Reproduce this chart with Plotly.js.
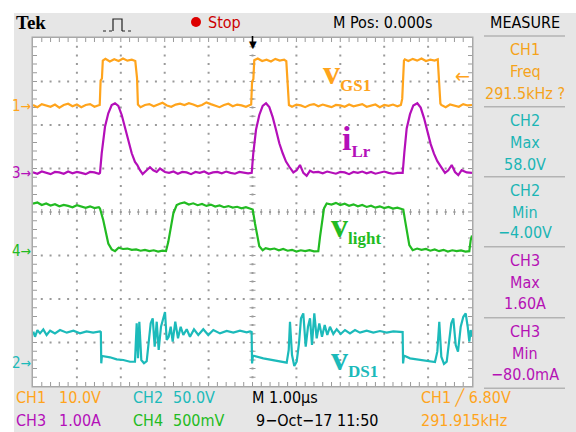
<!DOCTYPE html>
<html><head><meta charset="utf-8">
<script src="https://cdn.plot.ly/plotly-3.0.1.min.js"></script>
<style>html,body{margin:0;padding:0;background:#fff}#chart{width:576px;height:432px}</style>
</head><body><div id="chart"></div>
<script>
// ---------------- data (time in µs) ----------------
// CH1 : v_GS1 (V)
const ch1Time = [-5.00,-4.90,-4.80,-4.70,-4.60,-4.50,-4.40,-4.30,-4.20,-4.10,-4.00,-3.90,-3.80,-3.70,-3.60,-3.52,-3.48,
  -3.46,-3.43,-3.41,
  -3.35,-3.25,-3.15,-3.05,-2.95,-2.85,-2.75,-2.67,
  -2.65,-2.63,-2.61,
  -2.55,-2.45,-2.35,-2.25,-2.15,-2.05,-1.95,-1.85,-1.75,-1.65,-1.55,-1.45,-1.35,-1.25,-1.15,-1.05,-0.95,-0.85,-0.75,-0.65,-0.55,-0.45,-0.35,-0.25,-0.15,-0.06,
  -0.03,-0.01,0.02,0.04,
  0.12,0.22,0.32,0.42,0.52,0.62,0.72,
  0.77,0.79,0.81,0.83,
  0.90,1.00,1.10,1.20,1.30,1.40,1.50,1.60,1.70,1.80,1.90,2.00,2.10,2.20,2.30,2.40,2.50,2.60,2.70,2.80,2.90,3.00,3.10,3.20,3.30,
  3.38,
  3.41,3.43,3.45,
  3.47,3.55,3.65,3.75,3.85,3.95,4.05,4.15,4.22,
  4.24,4.26,4.28,
  4.30,4.40,4.50,4.60,4.70,4.80,4.90,5.00];
const ch1Volt = [0.2,-0.3,0.4,0.1,-0.2,0.3,-0.4,0.2,0.5,-0.1,0.3,-0.3,0.2,0.4,-0.2,0.1,0.2,
  5.8,6.3,10.4,
  10.8,10.2,10.7,10.3,10.9,10.4,10.6,10.3,
  7.2,6.4,0.3,
  -0.3,0.2,0.4,-0.1,0.3,0.7,0.1,-0.2,0.3,0.5,0.2,0.6,0.3,-0.1,0.2,0.8,0.4,0.1,-0.3,0.2,0.5,-0.1,0.3,0.1,-0.2,0.2,
  0.3,5.5,6.2,10.5,
  10.9,10.3,10.6,10.2,10.8,10.4,10.6,
  10.3,6.6,5.9,0.2,
  -0.2,0.3,0.1,-0.3,0.2,0.4,-0.1,0.3,0.0,-0.3,0.2,0.1,-0.2,0.3,-0.1,0.2,0.4,-0.2,0.1,0.3,-0.3,0.2,0.0,0.3,-0.1,
  0.2,
  1.6,6.0,10.4,
  10.7,10.3,10.8,10.4,10.9,10.3,10.6,10.4,10.7,
  6.8,6.2,0.5,
  0.2,-0.3,0.3,0.1,-0.2,0.4,0.1,0.2];

// CH2 : v_DS1 (V)
const ch2Time = [-4.993,-4.954,-4.90,-4.84,-4.765,-4.69,-4.61,-4.50,-4.385,-4.23,-4.08,-3.93,-3.78,-3.63,-3.474,
  -3.455,-3.445,-3.43,-3.246,-3.093,-2.943,-2.790,-2.677,
  -2.638,-2.608,-2.578,-2.533,-2.472,-2.410,-2.365,-2.319,-2.273,-2.228,-2.182,-2.137,-2.084,-2.032,-1.993,-1.954,-1.909,-1.863,-1.818,-1.759,-1.697,-1.636,-1.576,-1.499,-1.424,-1.333,-1.235,-1.121,-1.007,-0.893,-0.740,-0.588,-0.437,-0.285,-0.132,-0.057,
  -0.02,-0.01,0.01,0.246,0.474,0.702,0.779,
  0.825,0.854,0.900,0.952,1.006,1.059,1.105,1.157,1.212,1.264,1.310,1.355,1.408,1.462,1.522,1.583,1.645,1.704,1.765,1.841,1.918,2.009,2.107,2.221,2.335,2.449,2.601,2.752,2.904,3.057,3.208,3.399,
  3.42,3.43,3.45,3.588,3.815,4.043,4.157,
  4.210,4.255,4.301,4.362,4.424,4.483,4.528,4.574,4.629,4.681,4.743,4.802,4.856,4.902,4.939,4.970,5.00];
const ch2Volt = [35.4,29.6,37.3,33.5,38.1,31.6,36.6,33.5,37.3,34.3,36.6,33.5,35.8,34.3,35.8,
  35.0,-0.9,7.5,6.0,3.6,2.9,0.9,1.0,
  45.0,4.8,46.9,2.9,-0.9,1.5,22.0,45.0,50.8,18.2,46.9,14.4,41.1,52.6,58.0,25.9,29.6,41.1,23.9,46.9,27.8,41.1,31.6,38.3,29.6,38.1,31.6,38.3,31.6,37.3,33.5,36.2,34.3,36.6,34.7,35.8,
  35.0,-1.0,8.0,4.8,2.9,0.9,-0.2,
  14.4,46.9,8.6,-4.0,0.9,22.0,50.8,56.5,18.2,41.1,50.8,20.1,56.5,27.8,45.0,29.6,43.0,31.6,41.1,32.8,38.3,32.8,37.3,33.5,37.3,34.3,36.6,34.3,36.2,34.3,35.8,35.0,
  35.0,-1.0,8.0,4.8,2.9,0.9,0.5,
  12.5,46.9,6.7,-1.6,0.9,25.9,45.0,50.8,20.1,12.5,41.1,52.6,56.5,41.1,23.9,37.3,29.6];

// CH3 : i_Lr (A)
const ch3Time = [-5.00,-4.90,-4.80,-4.70,-4.60,-4.50,-4.40,-4.30,-4.20,-4.10,-4.00,-3.90,-3.80,-3.70,-3.60,-3.50,-3.474,
  -3.435,-3.360,-3.285,-3.207,-3.132,-3.056,-2.979,-2.904,-2.828,-2.751,-2.677,-2.624,-2.563,-2.502,-2.410,-2.335,-2.260,-2.182,-2.107,-1.993,
  -1.90,-1.80,-1.70,-1.60,-1.50,-1.40,-1.30,-1.20,-1.10,-1.00,-0.90,-0.80,-0.70,-0.60,-0.50,-0.40,-0.30,-0.20,-0.10,-0.018,
  0.018,0.080,0.155,0.232,0.308,0.383,0.460,0.535,0.611,0.688,0.763,0.839,0.930,1.006,1.082,1.158,1.234,1.310,1.385,
  1.50,1.60,1.70,1.80,1.90,2.00,2.10,2.20,2.30,2.40,2.50,2.60,2.70,2.80,2.90,3.00,3.10,3.20,3.30,3.421,
  3.459,3.512,3.588,3.663,3.754,3.831,3.907,3.982,4.059,4.134,4.210,4.287,4.385,4.460,4.538,4.613,4.688,4.765,4.879,5.00];
const ch3Amp = [0.01,-0.02,0.03,0.0,-0.03,0.02,0.01,-0.02,0.03,-0.01,0.02,0.0,-0.03,0.02,0.01,-0.02,0.0,
  0.45,1.06,1.37,1.56,1.60,1.54,1.33,1.06,0.75,0.45,0.25,0.18,0.06,-0.03,0.06,0.13,0.06,0.02,0.10,0.02,
  0.0,0.03,-0.02,0.02,0.01,-0.03,0.02,0.0,0.03,-0.02,0.01,0.02,-0.01,0.03,0.0,-0.02,0.02,0.01,-0.01,0.0,
  0.45,0.99,1.33,1.54,1.60,1.51,1.28,0.99,0.68,0.45,0.26,0.14,0.01,0.06,0.18,0.0,-0.07,0.05,0.01,
  0.02,-0.01,0.03,0.0,-0.02,0.02,0.01,-0.03,0.02,0.0,0.03,-0.01,0.02,-0.02,0.01,0.03,0.0,-0.02,0.0,0.0,
  0.47,1.02,1.35,1.55,1.60,1.50,1.26,0.97,0.66,0.44,0.27,0.15,0.0,0.06,0.18,0.02,-0.05,0.06,0.01,0.0];

// CH4 : v_light (mV)
const ch4Time = [-5.00,-4.90,-4.80,-4.70,-4.60,-4.50,-4.40,-4.30,-4.20,-4.10,-4.00,-3.90,-3.80,-3.70,-3.60,-3.50,-3.474,
  -3.399,-3.337,-3.285,-3.207,-3.132,
  -3.05,-2.95,-2.85,-2.75,-2.65,-2.55,-2.45,-2.35,-2.25,-2.15,-2.05,-1.970,
  -1.918,-1.863,-1.804,-1.727,-1.651,
  -1.55,-1.45,-1.35,-1.25,-1.15,-1.05,-0.95,-0.85,-0.75,-0.65,-0.55,-0.45,-0.35,-0.25,-0.15,-0.05,0.005,
  0.057,0.109,0.155,0.232,
  0.30,0.40,0.50,0.60,0.70,0.80,0.90,1.00,1.10,1.20,1.30,1.40,1.499,
  1.538,1.583,1.629,1.690,
  1.80,1.90,2.00,2.10,2.20,2.30,2.40,2.50,2.60,2.70,2.80,2.90,3.00,3.10,3.20,3.30,3.40,3.435,
  3.474,3.526,3.572,3.649,
  3.75,3.85,3.95,4.05,4.15,4.25,4.35,4.45,4.55,4.65,4.75,4.85,4.939,4.970,5.00];
const ch4mV = [545,560,530,548,525,540,515,532,520,505,528,512,498,515,495,505,490,
  356,203,88,20,0,
  40,25,30,15,20,5,15,0,10,-5,5,0,
  107,279,433,529,548,
  560,535,550,528,542,520,535,512,525,505,518,500,510,492,505,488,479,
  318,164,57,11,
  35,20,30,10,25,5,15,-5,10,0,12,-3,0,
  164,356,491,548,
  535,555,530,545,522,538,515,530,508,522,500,515,495,508,490,500,485,479,
  356,184,69,11,
  30,15,25,5,20,0,15,-5,10,0,8,-5,0,126,180];

// scope settings
const chScale  = {ch1:10, ch2:50, ch3:1, ch4:500};     // units per division
const chGround = {ch1:2.44, ch2:-3.46, ch3:0.90, ch4:-0.90}; // ground marker, divisions from centre
const trigLevel = 6.80;   // V on CH1
const measureLines = [
  ['CH1','#f5a31a'],['Freq','#f5a31a'],['291.5kHz ?','#f5a31a'],
  ['CH2','#1bb5b5'],['Max','#1bb5b5'],['58.0V','#1bb5b5'],
  ['CH2','#1bb5b5'],['Min','#1bb5b5'],['\u22124.00V','#1bb5b5'],
  ['CH3','#b511b5'],['Max','#b511b5'],['1.60A','#b511b5'],
  ['CH3','#b511b5'],['Min','#b511b5'],['\u221280.0mA','#b511b5']];

// ---------------- styling ----------------
const C1='#ffa41c', C2='#1cbaba', C3='#b40fb9', C4='#22bb22';
const SANS='"Liberation Sans Narrow","DejaVu Sans Condensed","Arial Narrow",sans-serif';
const SERIF='"Liberation Serif","Times New Roman","DejaVu Serif",serif';
const L=33,R=472,T=38,B=386;
const px=x=>(x-L)/(R-L), py=y=>(B-y)/(B-T);
function rng(k){return [(-4-chGround[k])*chScale[k],(4-chGround[k])*chScale[k]];}

const traces=[
  {x:ch2Time,y:ch2Volt,xaxis:'x',yaxis:'y3',mode:'lines',line:{color:C2,width:2.2},hoverinfo:'skip'},
  {x:ch4Time,y:ch4mV,xaxis:'x',yaxis:'y5',mode:'lines',line:{color:C4,width:2.2},hoverinfo:'skip'},
  {x:ch3Time,y:ch3Amp,xaxis:'x',yaxis:'y4',mode:'lines',line:{color:C3,width:2.2},hoverinfo:'skip'},
  {x:ch1Time,y:ch1Volt,xaxis:'x',yaxis:'y2',mode:'lines',line:{color:C1,width:2.2},hoverinfo:'skip'}
];

const GC='#9a9a9a';
const hidden={visible:false,overlaying:'y',showgrid:false,zeroline:false,fixedrange:true};
const layout={
  width:576,height:432,
  margin:{l:L,r:576-R,t:T,b:432-B,pad:0},
  paper_bgcolor:'#e6e6e6',plot_bgcolor:'#ffffff',showlegend:false,
  xaxis:{range:[-5,5],showgrid:false,zeroline:false,showline:false,ticks:'',showticklabels:false,fixedrange:true},
  yaxis:{range:[-4,4],showgrid:false,zeroline:false,showline:false,ticks:'',showticklabels:false,fixedrange:true},
  yaxis2:Object.assign({range:rng('ch1')},hidden),
  yaxis3:Object.assign({range:rng('ch2')},hidden),
  yaxis4:Object.assign({range:rng('ch3')},hidden),
  yaxis5:Object.assign({range:rng('ch4')},hidden),
  shapes:[],annotations:[]
};

// graticule decoration, drawn as small filled rectangles (division dots, border ticks, centre ticks)
const S=layout.shapes;
const ux=1/43.9, uy=1/43.5;    // one pixel in data units
let dots='', ticks='';
function rect(x0,x1,y0,y1){return `M${x0.toFixed(4)},${y0.toFixed(4)}H${x1.toFixed(4)}V${y1.toFixed(4)}H${x0.toFixed(4)}Z`;}
for(let i=-4;i<=4;i++) for(let k=1;k<40;k++){const y=-4+k/5; dots+=rect(i-ux,i+ux,y-uy,y+uy);}
for(let j=-3;j<=3;j++) for(let k=1;k<50;k++){const x=-5+k/5; if(Math.abs(x-Math.round(x))<1e-6) continue; dots+=rect(x-ux,x+ux,j-uy,j+uy);}
for(let k=1;k<50;k++){const x=-5+k/5;
  ticks+=rect(x-0.5*ux,x+0.5*ux,-4,-4+4*uy); ticks+=rect(x-0.5*ux,x+0.5*ux,4-4*uy,4);
  ticks+=rect(x-0.5*ux,x+0.5*ux,-3*uy,3*uy);}
for(let k=1;k<40;k++){const y=-4+k/5;
  ticks+=rect(-5,-5+4*ux,y-0.5*uy,y+0.5*uy); ticks+=rect(5-4*ux,5,y-0.5*uy,y+0.5*uy);
  ticks+=rect(-3*ux,3*ux,y-0.5*uy,y+0.5*uy);}
S.push({type:'path',xref:'x',yref:'y',path:dots,fillcolor:GC,line:{width:0},layer:'below'});
S.push({type:'path',xref:'x',yref:'y',path:ticks,fillcolor:GC,line:{width:0},layer:'below'});
// plot frame (filled strips)
const fx=1.5/439, fy=1.5/348;
S.push({type:'path',xref:'paper',yref:'paper',fillcolor:'#a8a8a8',line:{width:0},layer:'above',
  path:`M${-fx},${-fy}H${1+fx}V0H${-fx}Z M${-fx},1H${1+fx}V${1+fy}H${-fx}Z M${-fx},0H0V1H${-fx}Z M1,0H${1+fx}V1H1Z`});
// white margins of the screenshot
S.push({type:'rect',xref:'paper',yref:'paper',x0:px(0),x1:px(576),y0:py(13),y1:py(0),fillcolor:'#ffffff',line:{width:0},layer:'below'});
S.push({type:'rect',xref:'paper',yref:'paper',x0:px(0),x1:px(14),y0:py(432),y1:py(0),fillcolor:'#ffffff',line:{width:0},layer:'below'});
// header icons
S.push({type:'line',xref:'paper',yref:'paper',x0:px(103),x1:px(113),y0:py(31),y1:py(31),line:{color:'#222',width:1,dash:'dot'}});
S.push({type:'path',xref:'paper',yref:'paper',path:`M${px(113)},${py(31)} L${px(113)},${py(19)} L${px(122)},${py(19)} L${px(122)},${py(31)}`,line:{color:'#222',width:1.2}});
S.push({type:'line',xref:'paper',yref:'paper',x0:px(122),x1:px(132),y0:py(31),y1:py(31),line:{color:'#222',width:1,dash:'dot'}});
S.push({type:'circle',xref:'paper',yref:'paper',x0:px(191),x1:px(201),y0:py(27),y1:py(17),fillcolor:'#dd0000',line:{width:0}});
// measure panel separators
[36,106.7,176.7,246.7,317.7,388.3].forEach(y=>{
  S.push({type:'line',xref:'paper',yref:'paper',x0:px(484),x1:px(565),y0:py(y),y1:py(y),line:{color:'#b3b3b3',width:1.5}});
});
// trigger position marker stem
S.push({type:'line',xref:'x',yref:'paper',x0:0,x1:0,y0:py(36),y1:py(44),line:{color:'#000',width:1.6}});

function txt(text,x,y,color,size,anchor,family){
  layout.annotations.push({text:text,xref:'paper',yref:'paper',x:px(x),y:py(y),xanchor:anchor||'left',yanchor:'middle',
    showarrow:false,font:{family:family||SANS,size:size||16,color:color||'#000'}});
}
// header
txt('<b>Tek</b>',14,22,'#000',19,'left',SERIF);
txt('Stop',206,22,'#cc0000',16);
txt('M Pos: 0.000s',331,22,'#000',16);
txt('MEASURE',525,22,'#000',16,'center');
// measure panel
const panelY=[50,71,93,120,142,164,190,212,233,260,282,303,331,353,374];
measureLines.forEach((m,i)=>txt(m[0],525,panelY[i],m[1],16,'center'));
// bottom status
txt('CH1',14,397,C1,16); txt('10.0V',57,397,C1,16);
txt('CH2',131,397,C2,16); txt('50.0V',171,397,C2,16);
txt('M 1.00\u00b5s',250,397,'#000',16);
txt('CH1 \u2571 6.80V',419,397,C1,16);
txt('CH3',14,420,C3,16); txt('1.00A',57,420,C3,16);
txt('CH4',131,420,C4,16); txt('500mV',171,420,C4,16);
txt('9\u2212Oct\u221217 11:50',254,420,'#000',16);
txt('291.915kHz',419,420,C1,16);
// waveform labels
function lab(main,sub,x,y,color){
  layout.annotations.push({text:`<b>${main}<sub><span style="font-size:17px">${sub}</span></sub></b>`,xref:'paper',yref:'paper',
    x:px(x),y:py(y),xanchor:'left',yanchor:'middle',showarrow:false,font:{family:SERIF,size:34,color:color}});
}
lab('v','GS1',321,74,C1);
lab('i','Lr',340,140,C3);
lab('v','light',329,228,C4);
lab('v','DS1',329,360,C2);
// ground markers
[['1','y2',C1],['2','y3',C2],['3','y4',C3],['4','y5',C4]].forEach(g=>{
  layout.annotations.push({text:g[0]+'<span style="font-size:14px">\u2192</span>',xref:'paper',yref:g[1],x:0,y:0,xanchor:'right',yanchor:'middle',
    showarrow:false,font:{family:SANS,size:15,color:g[2]}});
});
// trigger level and trigger position
layout.annotations.push({text:'\u2190',xref:'paper',yref:'y2',x:1,y:trigLevel,xanchor:'right',yanchor:'middle',showarrow:false,font:{family:SANS,size:20,color:C1}});
layout.annotations.push({text:'\u25bc',xref:'x',yref:'paper',x:0,y:py(45),xanchor:'center',yanchor:'middle',showarrow:false,font:{family:'DejaVu Sans',size:10,color:'#000'}});

Plotly.newPlot('chart',traces,layout,{staticPlot:true,displayModeBar:false});
</script></body></html>
